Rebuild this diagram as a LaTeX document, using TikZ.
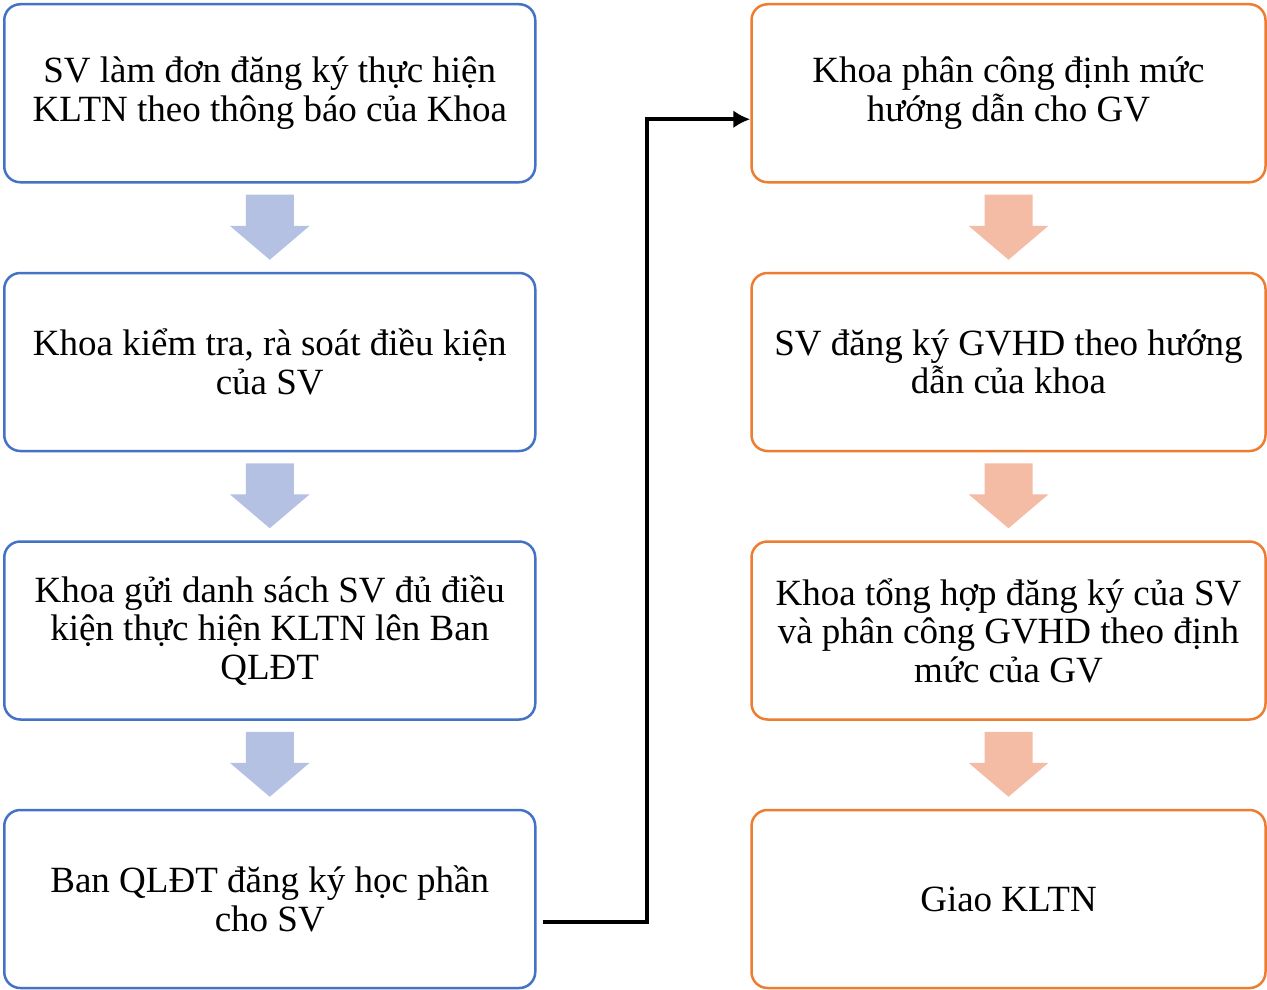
\documentclass[tikz,border=0pt]{standalone}
\usepackage{fontspec}
\setmainfont{Liberation Serif}
\usetikzlibrary{arrows.meta,calc}
\definecolor{blueline}{HTML}{4472C4}
\definecolor{orangeline}{HTML}{ED7D31}
\definecolor{bluefill}{HTML}{B4C1E3}
\definecolor{orangefill}{HTML}{F4BBA5}
\begin{document}
\begin{tikzpicture}[x=1pt,y=-1pt,
  stepbox/.style={draw, line width=2.5pt, rounded corners=16pt, fill=white,
    minimum width=531pt, minimum height=178pt, inner sep=0pt,
    align=center, font=\fontsize{37}{38.5}\selectfont},
  leftbox/.style={stepbox, draw=blueline},
  rightbox/.style={stepbox, draw=orangeline, minimum width=514pt},
  flow/.style={line width=3.6pt, -{Latex[length=17pt,width=18pt]}}
]
\useasboundingbox (0,0) rectangle (1267,990);

% left column
\node[leftbox] (l1) at (269.75,93.25) {SV làm đơn đăng ký thực hiện\\KLTN theo thông báo của Khoa};
\node[leftbox] (l2) at (269.75,362) {Khoa kiểm tra, rà soát điều kiện\\của SV};
\node[leftbox] (l3) at (269.75,630.5) {Khoa gửi danh sách SV đủ điều\\kiện thực hiện KLTN lên Ban\\QLĐT};
\node[leftbox] (l4) at (269.75,899) {Ban QLĐT đăng ký học phần\\cho SV};

% right column
\node[rightbox] (r1) at (1008.5,93.25) {Khoa phân công định mức\\hướng dẫn cho GV};
\node[rightbox] (r2) at (1008.5,362) {SV đăng ký GVHD theo hướng\\dẫn của khoa};
\node[rightbox] (r3) at (1008.5,630.5) {Khoa tổng hợp đăng ký của SV\\và phân công GVHD theo định\\mức của GV};
\node[rightbox] (r4) at (1008.5,899) {Giao KLTN};

% block arrows between steps
\foreach \a/\b/\c in {l1/l2/bluefill, l2/l3/bluefill, l3/l4/bluefill,
                      r1/r2/orangefill, r2/r3/orangefill, r3/r4/orangefill} {
  \path (\a.south) ++(0,11) coordinate (top)
        (\b.north) ++(0,-12) coordinate (tip);
  \fill[\c] ($(top)+(-24,0)$) -- ($(top)+(24,0)$) -- ($(tip)+(24,-34)$)
     -- ($(tip)+(40,-34)$) -- (tip) -- ($(tip)+(-40,-34)$) -- ($(tip)+(-24,-34)$) -- cycle;
}

% connector from the last left step to the first right step
\coordinate (bend) at (647,0);
\coordinate (entry) at ([yshift=-26pt]r1.west);
\draw[flow] ([xshift=6pt,yshift=-23pt]l4.east) -| (bend |- entry) -- (entry);
\end{tikzpicture}
\end{document}
